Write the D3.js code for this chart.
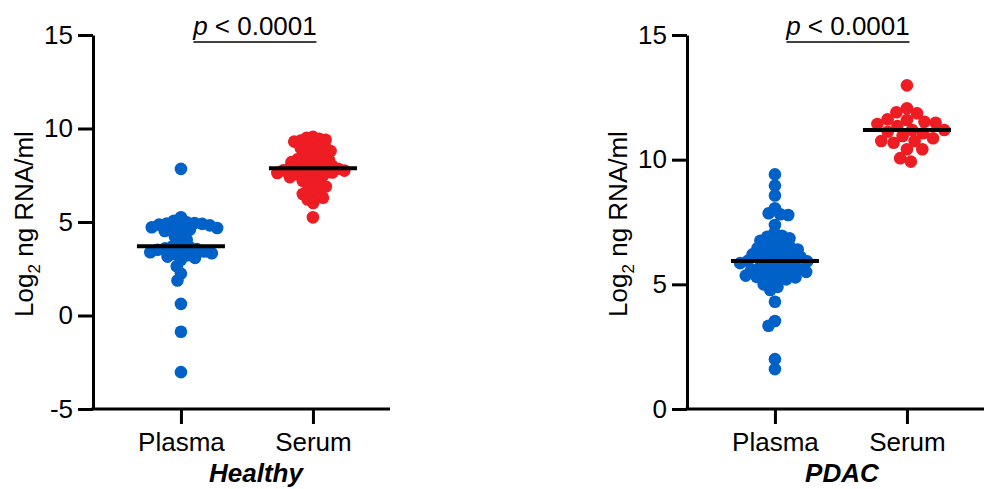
<!DOCTYPE html>
<html>
<head>
<meta charset="utf-8">
<script src="https://cdn.jsdelivr.net/npm/d3@7"></script>
<style>
  body { margin: 0; background: #fff; }
  svg { font-family: "Liberation Sans", Arial, sans-serif; }
</style>
</head>
<body>
<div id="container"></div>
<script>
/* DATA */
const groups = ["Plasma", "Serum"];
const healthyPlasma = [7.84, 5.25, 5.07, 4.98, 4.95, 4.92, 4.90, 4.86, 4.82, 4.78, 4.72, 4.68, 4.65, 4.60, 4.52,
  4.38, 4.22, 4.05, 3.88, 3.70, 3.66, 3.60, 3.55, 3.52, 3.48, 3.42, 3.38, 3.33, 3.28, 3.22, 3.15, 3.08, 2.98,
  2.63, 2.24, 1.87, 0.62, -0.87, -3.03];
const healthySerum = [9.55, 9.5, 9.45, 9.4, 9.35, 9.3, 9.2, 9.1, 9.05, 9.0, 8.95, 8.85, 8.8, 8.7, 8.6, 8.5, 8.45,
  8.4, 8.35, 8.3, 8.25, 8.2, 8.15, 8.1, 8.05, 8.0, 7.95, 7.92, 7.87, 7.85, 7.82, 7.8, 7.78, 7.76, 7.75, 7.7,
  7.65, 7.62, 7.6, 7.55, 7.5, 7.45, 7.4, 7.3, 7.2, 7.1, 7.0, 6.9, 6.8, 6.7, 6.6, 6.5, 6.4, 6.3, 6.2, 6.02, 5.25];
const pdacPlasma = [9.41, 8.96, 8.56, 8.05, 7.85, 7.81, 7.78, 7.38, 7.06, 6.95, 6.91, 6.85, 6.75, 6.7, 6.62, 6.55,
  6.5, 6.45, 6.4, 6.35, 6.3, 6.25, 6.2, 6.15, 6.1, 6.05, 6.0, 5.97, 5.94, 5.92, 5.88, 5.85, 5.8, 5.75, 5.7, 5.65,
  5.6, 5.58, 5.55, 5.52, 5.5, 5.45, 5.4, 5.35, 5.3, 5.28, 5.25, 5.2, 5.1, 5.0, 4.9, 4.77, 4.30, 3.53, 3.34, 2.0, 1.60];
const pdacSerum = [12.98, 12.06, 11.90, 11.86, 11.62, 11.59, 11.52, 11.48, 11.43, 11.35, 11.19, 11.19, 11.12,
  11.06, 10.95, 10.86, 10.75, 10.75, 10.68, 10.42, 10.42, 10.06, 9.92];
const healthyTicks = [-5, 0, 5, 10, 15];
const pdacTicks = [0, 5, 10, 15];
const pText = "< 0.0001";

/* CONSTANTS */
const width = 985, height = 489;
const font = 26, radius = 6.3, maxSpread = 38;
const colors = { Plasma: "#0061c8", Serum: "#ee1c23" };

const panels = [
  { title: "Healthy", left: 93, right: 390, domain: [-5, 15], ticks: healthyTicks,
    values: { Plasma: healthyPlasma, Serum: healthySerum }, labelX: 33, titleDx: 9, pDx: 8 },
  { title: "PDAC", left: 687, right: 984, domain: [0, 15], ticks: pdacTicks,
    values: { Plasma: pdacPlasma, Serum: pdacSerum }, labelX: 627, titleDx: 1, pDx: 7 }
];

const svg = d3.select("#container")
  .append("svg")
  .attr("width", width)
  .attr("height", height);

// simple beeswarm with collision distance D
function swarm(vals, yScale, D) {
  const pts = vals.map(v => ({ v, y: yScale(v) })).sort((a, b) => b.v - a.v);
  const placed = [];
  pts.forEach(p => {
    const blocked = [];
    placed.forEach(q => {
      const dy = Math.abs(q.y - p.y);
      if (dy < D) {
        const w = Math.sqrt(D * D - dy * dy);
        blocked.push([q.dx - w, q.dx + w]);
      }
    });
    const cands = [0];
    blocked.forEach(b => cands.push(b[0], b[1]));
    cands.sort((a, b) => Math.abs(a) - Math.abs(b) || a - b);
    p.dx = cands.find(c => blocked.every(b => c <= b[0] + 1e-6 || c >= b[1] - 1e-6));
    placed.push(p);
  });
  return placed;
}

// largest collision distance whose swarm still fits the column width
function fitSwarm(vals, yScale) {
  let pts;
  for (let D = 12; D >= 5; D -= 0.25) {
    pts = swarm(vals, yScale, D);
    if (d3.max(pts, d => Math.abs(d.dx)) <= maxSpread) return pts;
  }
  const ext = d3.max(pts, d => Math.abs(d.dx));
  pts.forEach(d => d.dx *= maxSpread / ext);
  return pts;
}

panels.forEach(panel => {
  const g = svg.append("g");

  const yScale = d3.scaleLinear().domain(panel.domain).range([409, 35]);
  const xScale = d3.scalePoint().domain(groups)
    .range([panel.left, panel.right])
    .padding(0.625).align(0.533);

  // y axis
  const yAxis = d3.axisLeft(yScale).tickValues(panel.ticks).tickFormat(d => String(d))
    .tickSize(15).tickSizeOuter(0).tickPadding(5);
  const ya = g.append("g")
    .attr("transform", `translate(${panel.left},0)`)
    .call(yAxis);
  ya.selectAll("path, line").attr("stroke", "#000").attr("stroke-width", 3);
  ya.selectAll("text").attr("font-size", font).attr("fill", "#000").attr("font-family", "Liberation Sans, Arial, sans-serif");

  // x axis
  const xAxis = d3.axisBottom(xScale).tickSize(15).tickSizeOuter(0).tickPadding(9);
  const xa = g.append("g")
    .attr("transform", `translate(0,409)`)
    .call(xAxis);
  xa.selectAll("path, line").attr("stroke", "#000").attr("stroke-width", 3);
  xa.select("path").attr("d", `M${panel.left - 1.5},0H${panel.right}`);
  xa.selectAll("text").attr("font-size", font).attr("fill", "#000").attr("font-family", "Liberation Sans, Arial, sans-serif");

  // y label
  const yl = g.append("text")
    .attr("transform", `translate(${panel.labelX},224) rotate(-90)`)
    .attr("text-anchor", "middle")
    .attr("font-size", font)
    .attr("fill", "#000");
  yl.append("tspan").text("Log");
  yl.append("tspan").attr("dy", 7).attr("font-size", 17).text("2");
  yl.append("tspan").attr("dy", -7).text(" ng RNA/ml");

  // group title
  const mid = (xScale("Plasma") + xScale("Serum")) / 2;
  g.append("text")
    .attr("x", mid + panel.titleDx)
    .attr("y", 482)
    .attr("text-anchor", "middle")
    .attr("font-size", font)
    .attr("font-weight", "bold")
    .attr("font-style", "italic")
    .text(panel.title);

  // p value
  const pt = g.append("text")
    .attr("x", mid + panel.pDx)
    .attr("y", 35)
    .attr("text-anchor", "middle")
    .attr("font-size", font);
  pt.append("tspan").attr("font-style", "italic").text("p");
  pt.append("tspan").text(" " + pText);
  g.append("line")
    .attr("x1", mid + panel.pDx - 61.5).attr("x2", mid + panel.pDx + 61.5)
    .attr("y1", 42).attr("y2", 42)
    .attr("stroke", "#000").attr("stroke-width", 1.5);

  // dots
  groups.forEach(grp => {
    const vals = panel.values[grp];
    const cx = xScale(grp);
    const pts = fitSwarm(vals, yScale);
    g.selectAll(".dot-" + grp)
      .data(pts)
      .join("circle")
      .attr("class", "dot-" + grp)
      .attr("cx", d => cx + d.dx)
      .attr("cy", d => d.y)
      .attr("r", radius)
      .attr("fill", colors[grp]);

    // median line
    const med = d3.median(vals);
    g.append("line")
      .attr("x1", cx - 44).attr("x2", cx + 44)
      .attr("y1", yScale(med)).attr("y2", yScale(med))
      .attr("stroke", "#000").attr("stroke-width", 4);
  });
});
</script>
</body>
</html>
